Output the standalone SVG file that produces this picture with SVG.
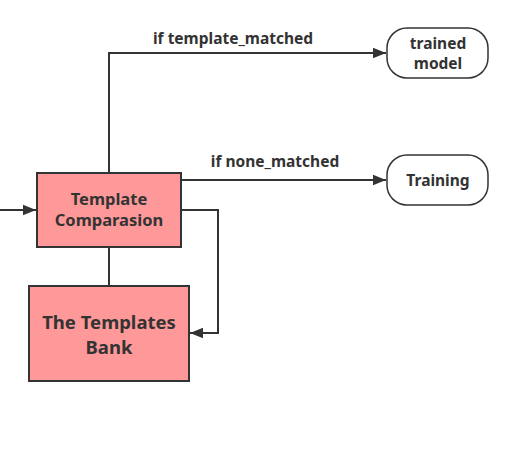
<svg xmlns="http://www.w3.org/2000/svg" width="506" height="474" viewBox="0 0 506 474">
<style>
text{font-family:"Noto Sans","Open Sans","DejaVu Sans",sans-serif;font-weight:bold;fill:#333;text-anchor:middle}
.box{fill:#ff9999;stroke:#333;stroke-width:2}
.term{fill:#fff;stroke:#333;stroke-width:1.5}
.c{fill:none;stroke:#333;stroke-width:2}
</style>
<defs>
<marker id="a" viewBox="0 0 10 10" refX="10" refY="5" markerWidth="13" markerHeight="13" markerUnits="userSpaceOnUse" orient="auto">
<path d="M0,1 L10,5 L0,9 z" fill="#333"/>
</marker>
</defs>
<g id="connectors">
<path class="c" d="M0,210 H36" marker-end="url(#a)"/>
<path class="c" d="M109,173 V53 H386" marker-end="url(#a)"/>
<path class="c" d="M181,180 H386" marker-end="url(#a)"/>
<path class="c" d="M181,210 H218 V333 H190" marker-end="url(#a)"/>
<path class="c" d="M109,247 V286"/>
<text x="233" y="44" font-size="15.5">if template_matched</text>
<text x="275" y="167" font-size="15.5">if none_matched</text>
</g>
<g id="comparasion">
<rect class="box" x="37" y="173" width="144" height="74"/>
<text x="109" y="205" font-size="16.5">Template</text>
<text x="109" y="226" font-size="16.5">Comparasion</text>
</g>
<g id="bank">
<rect class="box" x="29" y="286" width="160" height="95"/>
<text x="109" y="329" font-size="18.5">The Templates</text>
<text x="109" y="354" font-size="18.5">Bank</text>
</g>
<g id="trained">
<rect class="term" x="387" y="28" width="101" height="50" rx="20"/>
<text x="438" y="49" font-size="15.5">trained</text>
<text x="438" y="69" font-size="15.5">model</text>
</g>
<g id="training">
<rect class="term" x="387" y="155" width="101" height="50" rx="20"/>
<text x="438" y="186" font-size="15.5">Training</text>
</g>
</svg>
